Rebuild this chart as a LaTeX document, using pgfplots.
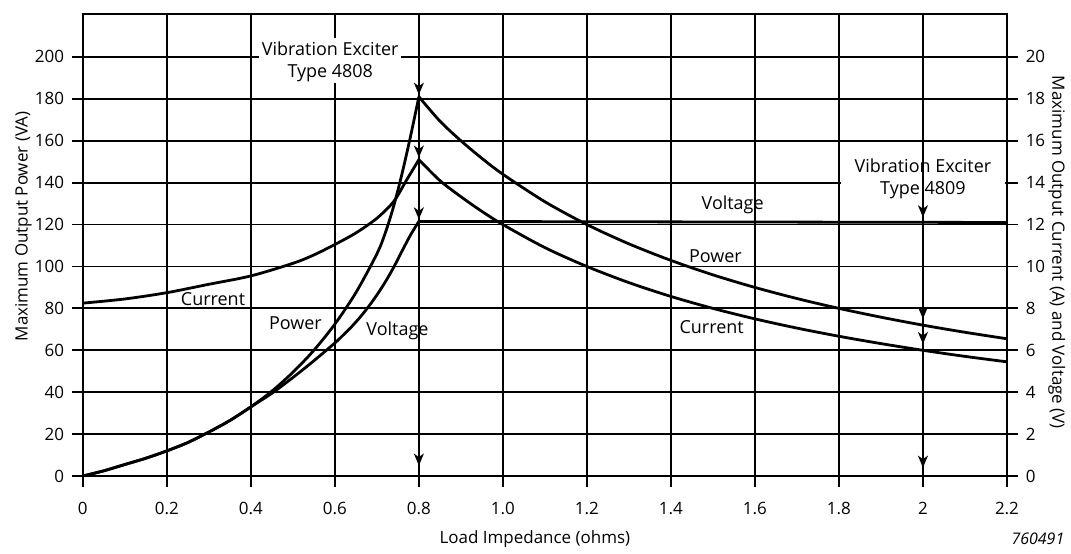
\documentclass[border=0pt]{standalone}
\usepackage{fontspec}
\setmainfont{Open Sans}
\usepackage{pgfplots}
\pgfplotsset{compat=1.18}
\usetikzlibrary{arrows.meta}
\begin{document}
\fontsize{17bp}{21bp}\selectfont
\begin{tikzpicture}[font=\fontsize{17bp}{21bp}\selectfont]
\path (-83bp,-78bp) rectangle (988bp,477bp);
\tikzset{lab/.style={font=\fontsize{18bp}{22bp}\selectfont, inner sep=1bp}}
\pgfplotsset{
  common/.style={
    at={(0,0)}, anchor=south west,
    scale only axis, width=926bp, height=463bp,
    xmin=0, xmax=2.2,
    tick align=outside,
    major tick length=11bp,
    tick style={black, line width=1.8bp},
    axis line style={black, line width=1.8bp},
    /pgf/number format/assume math mode=true,
    tick label style={font=\fontsize{17bp}{21bp}\selectfont},
  },
  curve/.style={black, line width=2.8bp, smooth, no markers},
  arr/.style={black, line width=1.8bp, -{Stealth[length=12bp,width=10bp,inset=3.5bp]}},
}
\begin{axis}[common,
  ymin=0, ymax=220.5,
  xtick={0,0.2,0.4,0.6,0.8,1,1.2,1.4,1.6,1.8,2,2.2},
  xticklabels={0,0.2,0.4,0.6,0.8,1.0,1.2,1.4,1.6,1.8,2,2.2},
  ytick={0,20,40,60,80,100,120,140,160,180,200},
  xtick pos=bottom, ytick pos=left,
  grid=major,
  major grid style={black, line width=1.8bp},
  xticklabel style={yshift=-9bp},
  yticklabel style={xshift=-2bp},
]
% Power (VA)
\addplot[curve] coordinates {(0,0)(0.05,2.5)(0.1,5.5)(0.15,8.5)(0.2,12)(0.25,16)(0.3,21)(0.35,26.5)(0.4,33)(0.45,40.5)(0.5,49.5)(0.55,60)(0.6,72.5)(0.65,87.5)(0.7,106)(0.72,116)(0.74,128.8)(0.76,144.4)(0.78,162)(0.8,181)};
\addplot[curve] coordinates {(0.8,181)(0.85,169.4)(0.9,160)(0.95,151.6)(1.0,144)(1.1,130.9)(1.2,120)(1.3,110.8)(1.4,102.9)(1.5,96)(1.6,90)(1.7,84.7)(1.8,80)(1.9,75.8)(2.0,72)(2.1,68.6)(2.2,65.5)};
% label boxes
\fill[white] (axis cs:0.42,187.5) rectangle (axis cs:0.758,209);
\node[lab, align=center] at (axis cs:0.589,197.5) {Vibration Exciter\\Type 4808};
\fill[white] (axis cs:1.805,131) rectangle (axis cs:2.195,153);
\addplot[black, line width=1.8bp] coordinates {(2,130)(2,154)};
\node[lab, align=center] at (axis cs:2.0,142) {Vibration Exciter\\Type 4809};
% arrows
\addplot[arr] coordinates {(0.8,192)(0.8,182)};
\addplot[arr] coordinates {(0.8,162)(0.8,152)};
\addplot[arr] coordinates {(0.8,132.5)(0.8,122.5)};
\addplot[arr] coordinates {(0.8,15)(0.8,5)};
\addplot[arr] coordinates {(2,133.5)(2,123.5)};
\addplot[arr] coordinates {(2,85)(2,75)};
\addplot[arr] coordinates {(2,73)(2,63)};
\addplot[arr] coordinates {(2,14)(2,4)};
% curve labels
\node[lab] at (axis cs:0.31,84.3) {Current};
\node[lab] at (axis cs:0.506,72.9) {Power};
\node[lab] at (axis cs:0.749,69.5) {Voltage};
\node[lab] at (axis cs:1.547,129.3) {Voltage};
\node[lab] at (axis cs:1.506,105) {Power};
\node[lab] at (axis cs:1.497,71.2) {Current};
\end{axis}
\begin{axis}[common,
  ymin=0, ymax=22.05,
  axis y line*=right, axis x line=none,
  ytick={0,2,4,6,8,10,12,14,16,18,20},
  yticklabel style={xshift=2bp},
]
% Current (A)
\addplot[curve] coordinates {(0,8.25)(0.1,8.45)(0.2,8.75)(0.3,9.15)(0.4,9.55)(0.5,10.15)(0.55,10.55)(0.6,11.05)(0.65,11.6)(0.7,12.3)(0.74,13.1)(0.77,14.1)(0.8,15.1)};
\addplot[curve] coordinates {(0.8,15.1)(0.85,14.1)(0.9,13.33)(0.95,12.63)(1.0,12)(1.1,10.9)(1.2,10)(1.3,9.23)(1.4,8.57)(1.5,8)(1.6,7.5)(1.7,7.06)(1.8,6.67)(1.9,6.32)(2.0,6)(2.1,5.71)(2.2,5.45)};
% Voltage (V)
\addplot[curve] coordinates {(0,0)(0.05,0.25)(0.1,0.55)(0.15,0.85)(0.2,1.2)(0.25,1.6)(0.3,2.1)(0.35,2.65)(0.4,3.3)(0.45,3.95)(0.5,4.7)(0.55,5.5)(0.6,6.35)(0.62,6.73)(0.64,7.13)(0.66,7.58)(0.68,8.08)(0.7,8.64)(0.72,9.26)(0.74,9.96)(0.76,10.74)(0.78,11.5)(0.8,12.15)};
\addplot[black, line width=2.8bp] coordinates {(0.8,12.15)(2.2,12.1)};
\end{axis}
\node[rotate=90] at (-59.5bp,250bp) {Maximum Output Power (VA)};
\node[rotate=-90] at (976bp,224bp) {Maximum Output Current (A) and Voltage (V)};
\node at (453bp,-63bp) {Load Impedance (ohms)};
\node[font=\fontsize{16bp}{20bp}\selectfont\itshape] at (957bp,-63bp) {760491};
\end{tikzpicture}
\end{document}
